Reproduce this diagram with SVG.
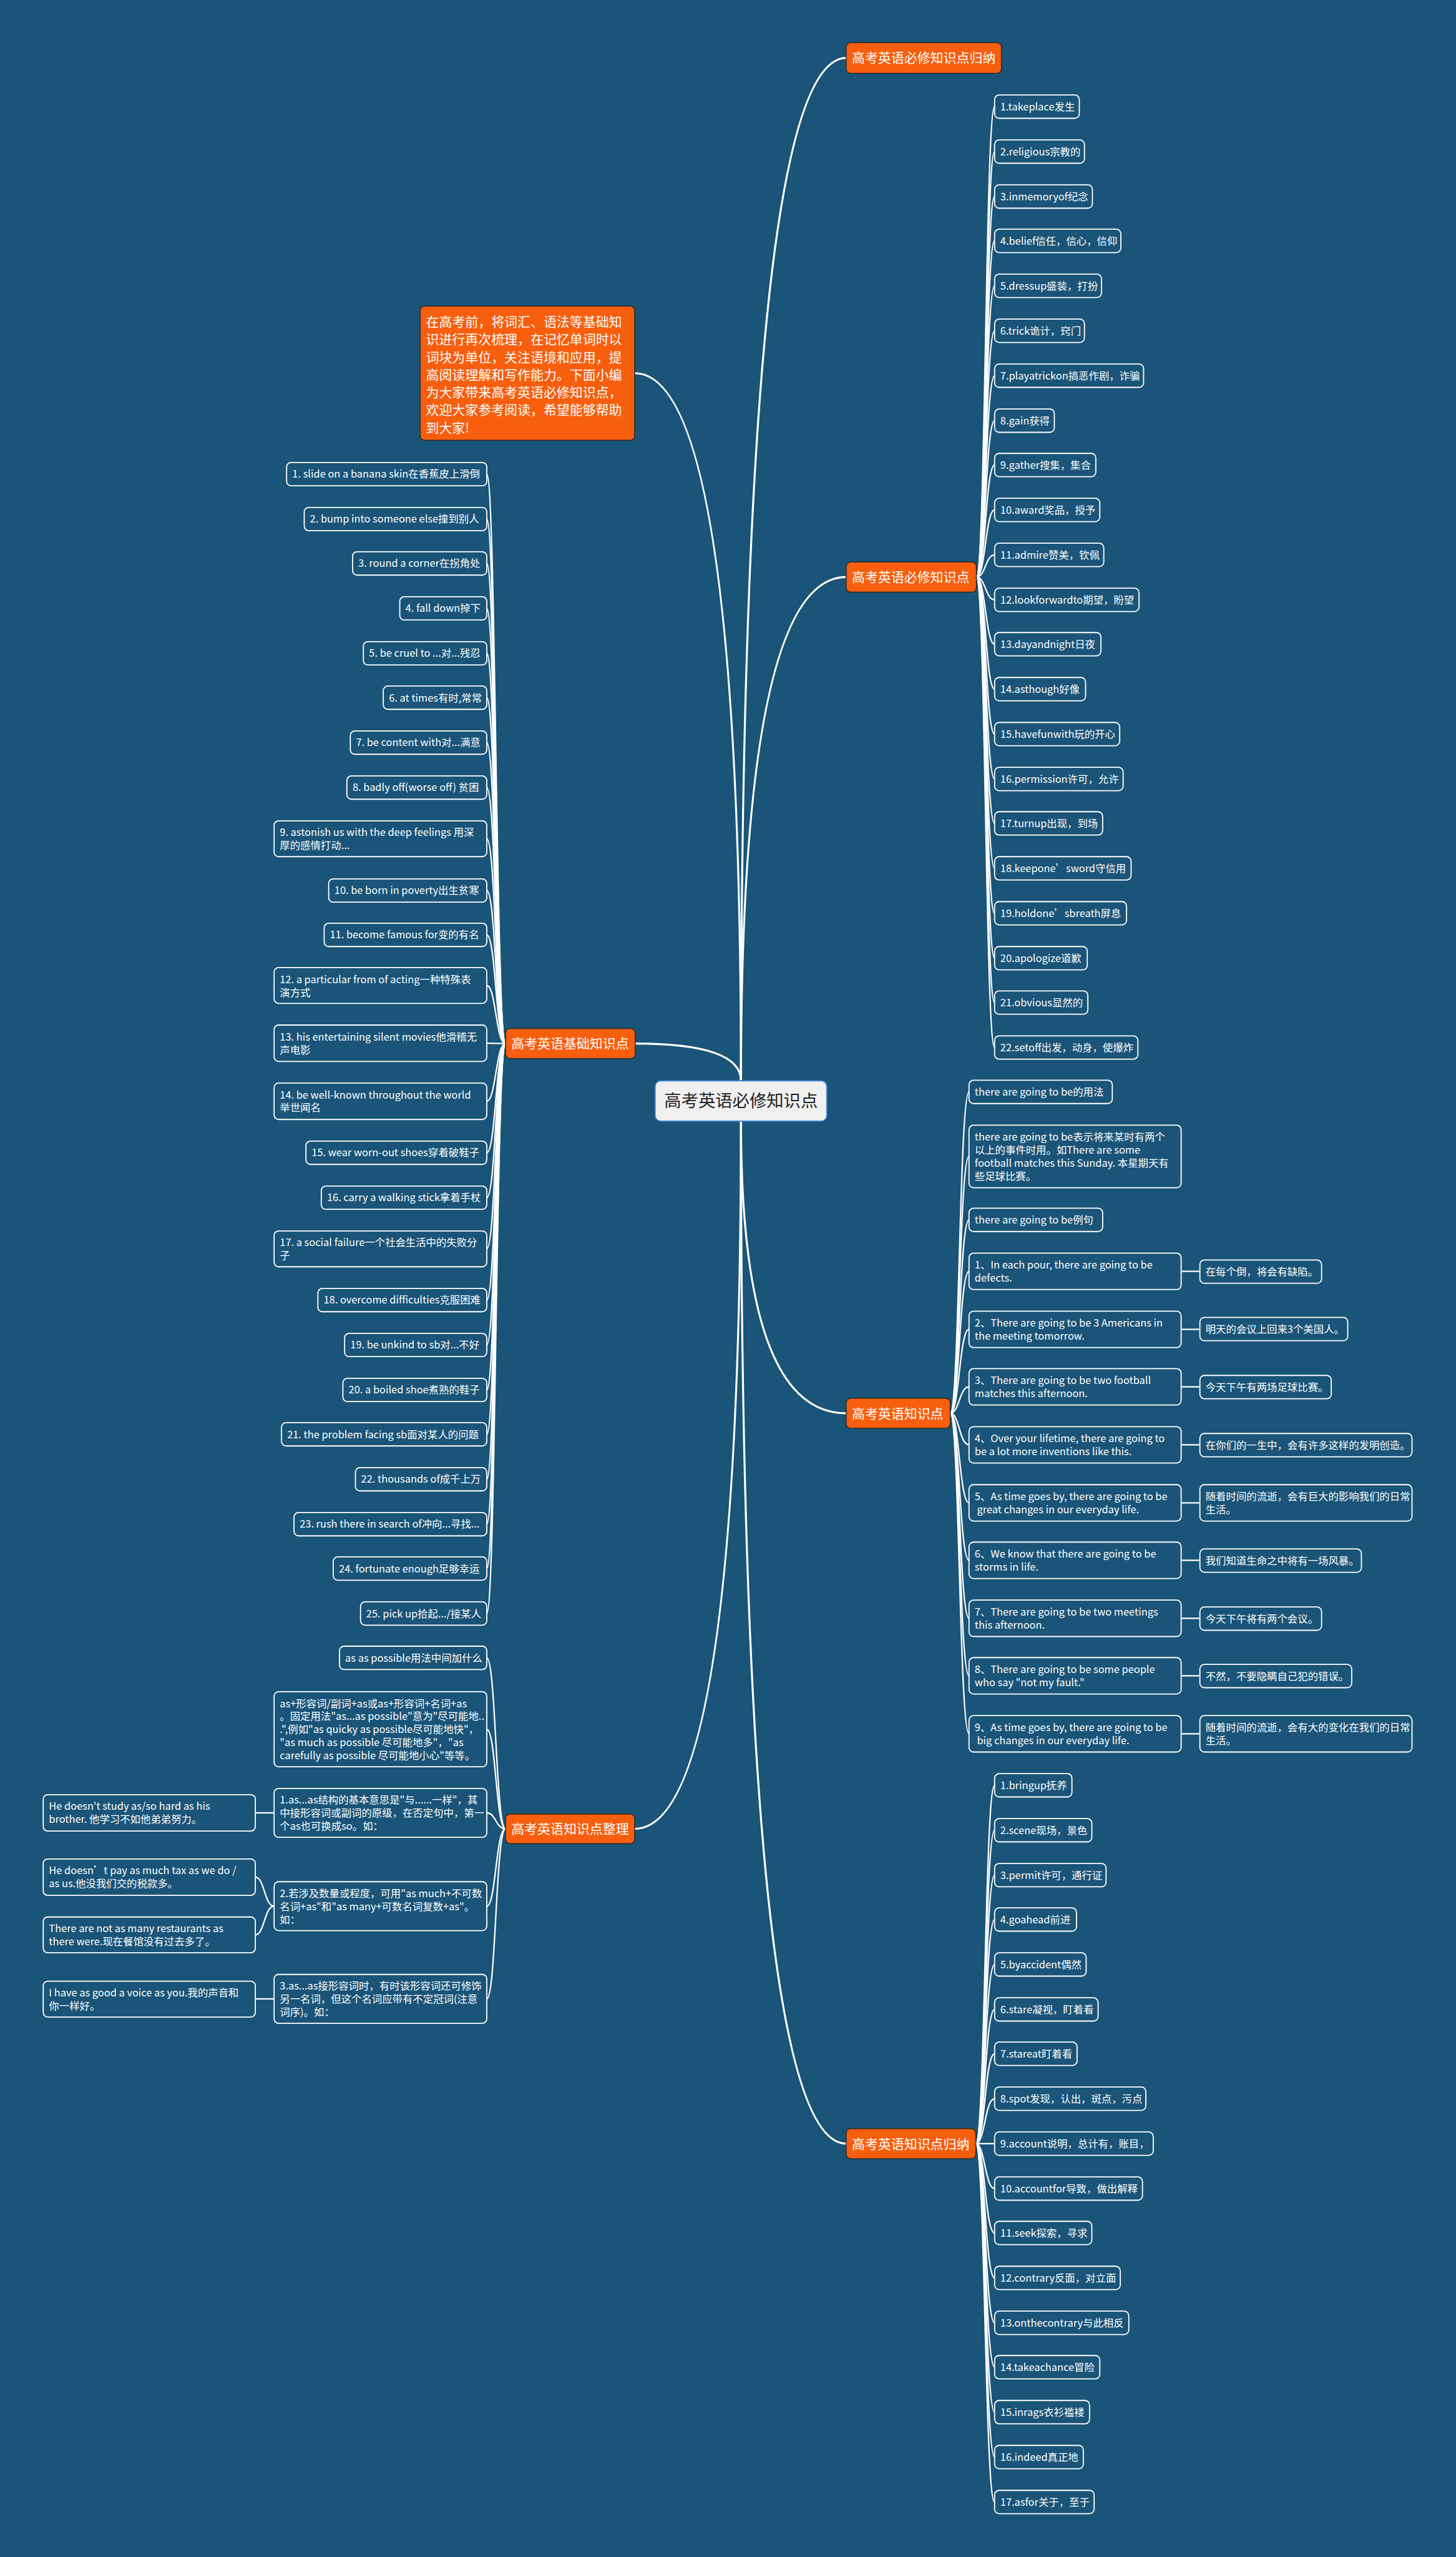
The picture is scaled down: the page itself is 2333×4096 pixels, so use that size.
<svg xmlns="http://www.w3.org/2000/svg" width="2333" height="4096" viewBox="0 0 2333 4096">
<style>
.b{fill:#1a5478;stroke:#ffffff;stroke-width:2}
.o{fill:#f75e0e;stroke:#2a2a2a;stroke-width:1.6}
.t{fill:#ffffff;font-family:"Noto Sans CJK SC","Microsoft YaHei",sans-serif;font-size:18px}
.ot{fill:#ffffff;font-family:"Noto Sans CJK SC","Microsoft YaHei",sans-serif;font-size:23px}
.c{fill:none;stroke:#ffffff;stroke-width:2.5}
.rc{fill:none;stroke:#ffffff;stroke-width:3.5}
</style>
<rect x="0" y="0" width="2333" height="4096" fill="#1a5478"/>
<g transform="scale(0.9112)">
<g id="connectors">
<path class="rc" d="M1303 1900 Q1303 102 1488 102"/>
<path class="rc" d="M1303 1900 Q1303 1014.5 1488 1014.5"/>
<path class="rc" d="M1303 1900 Q1303 656 1116 656"/>
<path class="rc" d="M1303 1900 Q1303 1834.5 1117 1834.5"/>
<path class="rc" d="M1303 1971 Q1303 2484.5 1488 2484.5"/>
<path class="rc" d="M1303 1971 Q1303 3768.5 1488 3768.5"/>
<path class="rc" d="M1303 1971 Q1303 3215 1116 3215"/>
<!-- right list -->
<path class="c" d="M1717 1014.5 C1733 1014.5 1733 187.5 1749 187.5"/>
<path class="c" d="M1717 1014.5 C1733 1014.5 1733 266.5 1749 266.5"/>
<path class="c" d="M1717 1014.5 C1733 1014.5 1733 345.5 1749 345.5"/>
<path class="c" d="M1717 1014.5 C1733 1014.5 1733 423.5 1749 423.5"/>
<path class="c" d="M1717 1014.5 C1733 1014.5 1733 502.5 1749 502.5"/>
<path class="c" d="M1717 1014.5 C1733 1014.5 1733 581.5 1749 581.5"/>
<path class="c" d="M1717 1014.5 C1733 1014.5 1733 660.5 1749 660.5"/>
<path class="c" d="M1717 1014.5 C1733 1014.5 1733 739.5 1749 739.5"/>
<path class="c" d="M1717 1014.5 C1733 1014.5 1733 817.5 1749 817.5"/>
<path class="c" d="M1717 1014.5 C1733 1014.5 1733 896.5 1749 896.5"/>
<path class="c" d="M1717 1014.5 C1733 1014.5 1733 975.5 1749 975.5"/>
<path class="c" d="M1717 1014.5 C1733 1014.5 1733 1054.5 1749 1054.5"/>
<path class="c" d="M1717 1014.5 C1733 1014.5 1733 1132.5 1749 1132.5"/>
<path class="c" d="M1717 1014.5 C1733 1014.5 1733 1211.5 1749 1211.5"/>
<path class="c" d="M1717 1014.5 C1733 1014.5 1733 1290.5 1749 1290.5"/>
<path class="c" d="M1717 1014.5 C1733 1014.5 1733 1369.5 1749 1369.5"/>
<path class="c" d="M1717 1014.5 C1733 1014.5 1733 1447.5 1749 1447.5"/>
<path class="c" d="M1717 1014.5 C1733 1014.5 1733 1526.5 1749 1526.5"/>
<path class="c" d="M1717 1014.5 C1733 1014.5 1733 1605.5 1749 1605.5"/>
<path class="c" d="M1717 1014.5 C1733 1014.5 1733 1684.5 1749 1684.5"/>
<path class="c" d="M1717 1014.5 C1733 1014.5 1733 1762.5 1749 1762.5"/>
<path class="c" d="M1717 1014.5 C1733 1014.5 1733 1841.5 1749 1841.5"/>
<!-- left list -->
<path class="c" d="M889 1834.5 C872 1834.5 872 833.5 856 833.5"/>
<path class="c" d="M889 1834.5 C872 1834.5 872 912.5 856 912.5"/>
<path class="c" d="M889 1834.5 C872 1834.5 872 990.5 856 990.5"/>
<path class="c" d="M889 1834.5 C872 1834.5 872 1069.5 856 1069.5"/>
<path class="c" d="M889 1834.5 C872 1834.5 872 1148.5 856 1148.5"/>
<path class="c" d="M889 1834.5 C872 1834.5 872 1226.5 856 1226.5"/>
<path class="c" d="M889 1834.5 C872 1834.5 872 1305.5 856 1305.5"/>
<path class="c" d="M889 1834.5 C872 1834.5 872 1384.5 856 1384.5"/>
<path class="c" d="M889 1834.5 C872 1834.5 872 1474.5 856 1474.5"/>
<path class="c" d="M889 1834.5 C872 1834.5 872 1565.5 856 1565.5"/>
<path class="c" d="M889 1834.5 C872 1834.5 872 1643.5 856 1643.5"/>
<path class="c" d="M889 1834.5 C872 1834.5 872 1732.5 856 1732.5"/>
<path class="c" d="M889 1834.5 L856 1834"/>
<path class="c" d="M889 1834.5 C872 1834.5 872 1936 856 1936"/>
<path class="c" d="M889 1834.5 C872 1834.5 872 2026.5 856 2026.5"/>
<path class="c" d="M889 1834.5 C872 1834.5 872 2105.5 856 2105.5"/>
<path class="c" d="M889 1834.5 C872 1834.5 872 2195.5 856 2195.5"/>
<path class="c" d="M889 1834.5 C872 1834.5 872 2285.5 856 2285.5"/>
<path class="c" d="M889 1834.5 C872 1834.5 872 2364.5 856 2364.5"/>
<path class="c" d="M889 1834.5 C872 1834.5 872 2443.5 856 2443.5"/>
<path class="c" d="M889 1834.5 C872 1834.5 872 2521.5 856 2521.5"/>
<path class="c" d="M889 1834.5 C872 1834.5 872 2600.5 856 2600.5"/>
<path class="c" d="M889 1834.5 C872 1834.5 872 2679.5 856 2679.5"/>
<path class="c" d="M889 1834.5 C872 1834.5 872 2757.5 856 2757.5"/>
<path class="c" d="M889 1834.5 C872 1834.5 872 2836.5 856 2836.5"/>
<!-- there-section -->
<path class="c" d="M1671 2484.5 C1687 2484.5 1687 1919.5 1704 1919.5"/>
<path class="c" d="M1671 2484.5 C1687 2484.5 1687 2033 1704 2033"/>
<path class="c" d="M1671 2484.5 C1687 2484.5 1687 2144.5 1704 2144.5"/>
<path class="c" d="M1671 2484.5 C1687 2484.5 1687 2235 1704 2235"/>
<path class="c" d="M1671 2484.5 C1687 2484.5 1687 2337 1704 2337"/>
<path class="c" d="M1671 2484.5 C1687 2484.5 1687 2438 1704 2438"/>
<path class="c" d="M1671 2484.5 C1687 2484.5 1687 2540 1704 2540"/>
<path class="c" d="M1671 2484.5 C1687 2484.5 1687 2642 1704 2642"/>
<path class="c" d="M1671 2484.5 C1687 2484.5 1687 2743 1704 2743"/>
<path class="c" d="M1671 2484.5 C1687 2484.5 1687 2845 1704 2845"/>
<path class="c" d="M1671 2484.5 C1687 2484.5 1687 2946 1704 2946"/>
<path class="c" d="M1671 2484.5 C1687 2484.5 1687 3048 1704 3048"/>
<path class="c" d="M2077 2235 L2110 2235"/>
<path class="c" d="M2077 2337 L2110 2337"/>
<path class="c" d="M2077 2438 L2110 2438"/>
<path class="c" d="M2077 2540 L2110 2540"/>
<path class="c" d="M2077 2642 L2110 2642"/>
<path class="c" d="M2077 2743 L2110 2743"/>
<path class="c" d="M2077 2845 L2110 2845"/>
<path class="c" d="M2077 2946 L2110 2946"/>
<path class="c" d="M2077 3048 L2110 3048"/>
<!-- bottom list -->
<path class="c" d="M1716 3768.5 C1732 3768.5 1732 3138.5 1749 3138.5"/>
<path class="c" d="M1716 3768.5 C1732 3768.5 1732 3217.5 1749 3217.5"/>
<path class="c" d="M1716 3768.5 C1732 3768.5 1732 3296.5 1749 3296.5"/>
<path class="c" d="M1716 3768.5 C1732 3768.5 1732 3374.5 1749 3374.5"/>
<path class="c" d="M1716 3768.5 C1732 3768.5 1732 3453.5 1749 3453.5"/>
<path class="c" d="M1716 3768.5 C1732 3768.5 1732 3532.5 1749 3532.5"/>
<path class="c" d="M1716 3768.5 C1732 3768.5 1732 3610.5 1749 3610.5"/>
<path class="c" d="M1716 3768.5 C1732 3768.5 1732 3689.5 1749 3689.5"/>
<path class="c" d="M1716 3768.5 L1749 3768.5"/>
<path class="c" d="M1716 3768.5 C1732 3768.5 1732 3847.5 1749 3847.5"/>
<path class="c" d="M1716 3768.5 C1732 3768.5 1732 3925.5 1749 3925.5"/>
<path class="c" d="M1716 3768.5 C1732 3768.5 1732 4004.5 1749 4004.5"/>
<path class="c" d="M1716 3768.5 C1732 3768.5 1732 4083.5 1749 4083.5"/>
<path class="c" d="M1716 3768.5 C1732 3768.5 1732 4161.5 1749 4161.5"/>
<path class="c" d="M1716 3768.5 C1732 3768.5 1732 4240.5 1749 4240.5"/>
<path class="c" d="M1716 3768.5 C1732 3768.5 1732 4319.5 1749 4319.5"/>
<path class="c" d="M1716 3768.5 C1732 3768.5 1732 4398.5 1749 4398.5"/>
<!-- as...as section -->
<path class="c" d="M889 3215 C872 3215 872 2914.5 856 2914.5"/>
<path class="c" d="M889 3215 C872 3215 872 3040 856 3040"/>
<path class="c" d="M889 3215 C872 3215 872 3187 856 3187"/>
<path class="c" d="M889 3215 C872 3215 872 3351 856 3351"/>
<path class="c" d="M889 3215 C872 3215 872 3514 856 3514"/>
<path class="c" d="M482 3187 L449 3187"/>
<path class="c" d="M482 3351 C465 3351 465 3300 449 3300"/>
<path class="c" d="M482 3351 C465 3351 465 3401.5 449 3401.5"/>
<path class="c" d="M482 3514 L449 3514"/>
</g>

<g id="root"><rect x="1152" y="1900" width="302" height="71" rx="10" fill="#f0f0f0" stroke="#3d7fd0" stroke-width="2"/><text x="1303" y="1946" text-anchor="middle" font-family="Noto Sans CJK SC, sans-serif" font-size="30" fill="#222222">高考英语必修知识点</text></g>

<g id="note"><rect class="o" x="739" y="538" width="377" height="236" rx="8"/>
<text class="ot"><tspan x="749" y="574">在高考前，将词汇、语法等基础知</tspan><tspan x="749" y="605">识进行再次梳理，在记忆单词时以</tspan><tspan x="749" y="636">词块为单位，关注语境和应用，提</tspan><tspan x="749" y="667">高阅读理解和写作能力。下面小编</tspan><tspan x="749" y="698">为大家带来高考英语必修知识点，</tspan><tspan x="749" y="729">欢迎大家参考阅读，希望能够帮助</tspan><tspan x="749" y="760">到大家!</tspan></text></g>

<g id="o1"><rect class="o" x="1488" y="75" width="273" height="54" rx="8"/><text class="ot" x="1498" y="110">高考英语必修知识点归纳</text></g>
<g id="o2"><rect class="o" x="1488" y="988" width="229" height="53" rx="8"/><text class="ot" x="1498" y="1023">高考英语必修知识点</text></g>
<g id="o3"><rect class="o" x="1488" y="2458" width="183" height="53" rx="8"/><text class="ot" x="1498" y="2493">高考英语知识点</text></g>
<g id="o4"><rect class="o" x="1488" y="3742" width="228" height="53" rx="8"/><text class="ot" x="1498" y="3777">高考英语知识点归纳</text></g>
<g id="o5"><rect class="o" x="889" y="1808" width="228" height="53" rx="8"/><text class="ot" x="899" y="1843">高考英语基础知识点</text></g>
<g id="o6"><rect class="o" x="889" y="3189" width="227" height="52" rx="8"/><text class="ot" x="899" y="3223">高考英语知识点整理</text></g>

<g id="r1"><rect class="b" x="1749" y="167" width="149" height="41" rx="8"/><text class="t" x="1759" y="194">1.takeplace发生</text></g>
<g id="r2"><rect class="b" x="1749" y="246" width="158" height="41" rx="8"/><text class="t" x="1759" y="273">2.religious宗教的</text></g>
<g id="r3"><rect class="b" x="1749" y="325" width="172" height="41" rx="8"/><text class="t" x="1759" y="352">3.inmemoryof纪念</text></g>
<g id="r4"><rect class="b" x="1749" y="403" width="222" height="41" rx="8"/><text class="t" x="1759" y="430">4.belief信任，信心，信仰</text></g>
<g id="r5"><rect class="b" x="1749" y="482" width="188" height="41" rx="8"/><text class="t" x="1759" y="509">5.dressup盛装，打扮</text></g>
<g id="r6"><rect class="b" x="1749" y="561" width="158" height="41" rx="8"/><text class="t" x="1759" y="588">6.trick诡计，窍门</text></g>
<g id="r7"><rect class="b" x="1749" y="640" width="262" height="41" rx="8"/><text class="t" x="1759" y="667">7.playatrickon搞恶作剧，诈骗</text></g>
<g id="r8"><rect class="b" x="1749" y="719" width="105" height="41" rx="8"/><text class="t" x="1759" y="746">8.gain获得</text></g>
<g id="r9"><rect class="b" x="1749" y="797" width="178" height="41" rx="8"/><text class="t" x="1759" y="824">9.gather搜集，集合</text></g>
<g id="r10"><rect class="b" x="1749" y="876" width="185" height="41" rx="8"/><text class="t" x="1759" y="903">10.award奖品，授予</text></g>
<g id="r11"><rect class="b" x="1749" y="955" width="192" height="41" rx="8"/><text class="t" x="1759" y="982">11.admire赞美，钦佩</text></g>
<g id="r12"><rect class="b" x="1749" y="1034" width="254" height="41" rx="8"/><text class="t" x="1759" y="1061">12.lookforwardto期望，盼望</text></g>
<g id="r13"><rect class="b" x="1749" y="1112" width="187" height="41" rx="8"/><text class="t" x="1759" y="1139">13.dayandnight日夜</text></g>
<g id="r14"><rect class="b" x="1749" y="1191" width="160" height="41" rx="8"/><text class="t" x="1759" y="1218">14.asthough好像</text></g>
<g id="r15"><rect class="b" x="1749" y="1270" width="220" height="41" rx="8"/><text class="t" x="1759" y="1297">15.havefunwith玩的开心</text></g>
<g id="r16"><rect class="b" x="1749" y="1349" width="226" height="41" rx="8"/><text class="t" x="1759" y="1376">16.permission许可，允许</text></g>
<g id="r17"><rect class="b" x="1749" y="1427" width="190" height="41" rx="8"/><text class="t" x="1759" y="1454">17.turnup出现，到场</text></g>
<g id="r18"><rect class="b" x="1749" y="1506" width="240" height="41" rx="8"/><text class="t" x="1759" y="1533">18.keepone’sword守信用</text></g>
<g id="r19"><rect class="b" x="1749" y="1585" width="232" height="41" rx="8"/><text class="t" x="1759" y="1612">19.holdone’sbreath屏息</text></g>
<g id="r20"><rect class="b" x="1749" y="1664" width="163" height="41" rx="8"/><text class="t" x="1759" y="1691">20.apologize道歉</text></g>
<g id="r21"><rect class="b" x="1749" y="1742" width="164" height="41" rx="8"/><text class="t" x="1759" y="1769">21.obvious显然的</text></g>
<g id="r22"><rect class="b" x="1749" y="1821" width="252" height="41" rx="8"/><text class="t" x="1759" y="1848">22.setoff出发，动身，使爆炸</text></g>

<g id="l1"><rect class="b" x="504" y="813" width="352" height="41" rx="8"/><text class="t" x="514" y="840">1. slide on a banana skin在香蕉皮上滑倒</text></g>
<g id="l2"><rect class="b" x="535" y="892" width="321" height="41" rx="8"/><text class="t" x="545" y="919">2. bump into someone else撞到别人</text></g>
<g id="l3"><rect class="b" x="620" y="970" width="236" height="41" rx="8"/><text class="t" x="630" y="997">3. round a corner在拐角处</text></g>
<g id="l4"><rect class="b" x="703" y="1049" width="153" height="41" rx="8"/><text class="t" x="713" y="1076">4. fall down掉下</text></g>
<g id="l5"><rect class="b" x="639" y="1128" width="217" height="41" rx="8"/><text class="t" x="649" y="1155">5. be cruel to ...对...残忍</text></g>
<g id="l6"><rect class="b" x="674" y="1206" width="182" height="41" rx="8"/><text class="t" x="684" y="1233">6. at times有时,常常</text></g>
<g id="l7"><rect class="b" x="616" y="1285" width="240" height="41" rx="8"/><text class="t" x="626" y="1312">7. be content with对...满意</text></g>
<g id="l8"><rect class="b" x="610" y="1364" width="246" height="41" rx="8"/><text class="t" x="620" y="1391">8. badly off(worse off) 贫困</text></g>
<g id="l9"><rect class="b" x="482" y="1443" width="374" height="63" rx="8"/><text class="t"><tspan x="492" y="1470">9. astonish us with the deep feelings 用深</tspan><tspan x="492" y="1493">厚的感情打动...</tspan></text></g>
<g id="l10"><rect class="b" x="578" y="1545" width="278" height="41" rx="8"/><text class="t" x="588" y="1572">10. be born in poverty出生贫寒</text></g>
<g id="l11"><rect class="b" x="570" y="1623" width="286" height="41" rx="8"/><text class="t" x="580" y="1650">11. become famous for变的有名</text></g>
<g id="l12"><rect class="b" x="482" y="1701" width="374" height="63" rx="8"/><text class="t"><tspan x="492" y="1728">12. a particular from of acting一种特殊表</tspan><tspan x="492" y="1751">演方式</tspan></text></g>
<g id="l13"><rect class="b" x="482" y="1802" width="374" height="64" rx="8"/><text class="t"><tspan x="492" y="1829">13. his entertaining silent movies他滑稽无</tspan><tspan x="492" y="1852">声电影</tspan></text></g>
<g id="l14"><rect class="b" x="482" y="1904" width="374" height="64" rx="8"/><text class="t"><tspan x="492" y="1931">14. be well-known throughout the world</tspan><tspan x="492" y="1954">举世闻名</tspan></text></g>
<g id="l15"><rect class="b" x="538" y="2006" width="318" height="41" rx="8"/><text class="t" x="548" y="2033">15. wear worn-out shoes穿着破鞋子</text></g>
<g id="l16"><rect class="b" x="565" y="2085" width="291" height="41" rx="8"/><text class="t" x="575" y="2112">16. carry a walking stick拿着手杖</text></g>
<g id="l17"><rect class="b" x="482" y="2164" width="374" height="63" rx="8"/><text class="t"><tspan x="492" y="2191">17. a social failure一个社会生活中的失败分</tspan><tspan x="492" y="2214">子</tspan></text></g>
<g id="l18"><rect class="b" x="559" y="2265" width="297" height="41" rx="8"/><text class="t" x="569" y="2292">18. overcome difficulties克服困难</text></g>
<g id="l19"><rect class="b" x="606" y="2344" width="250" height="41" rx="8"/><text class="t" x="616" y="2371">19. be unkind to sb对...不好</text></g>
<g id="l20"><rect class="b" x="603" y="2423" width="253" height="41" rx="8"/><text class="t" x="613" y="2450">20. a boiled shoe煮熟的鞋子</text></g>
<g id="l21"><rect class="b" x="495" y="2501" width="361" height="41" rx="8"/><text class="t" x="505" y="2528">21. the problem facing sb面对某人的问题</text></g>
<g id="l22"><rect class="b" x="625" y="2580" width="231" height="41" rx="8"/><text class="t" x="635" y="2607">22. thousands of成千上万</text></g>
<g id="l23"><rect class="b" x="517" y="2659" width="339" height="41" rx="8"/><text class="t" x="527" y="2686">23. rush there in search of冲向...寻找...</text></g>
<g id="l24"><rect class="b" x="586" y="2737" width="270" height="41" rx="8"/><text class="t" x="596" y="2764">24. fortunate enough足够幸运</text></g>
<g id="l25"><rect class="b" x="634" y="2816" width="222" height="41" rx="8"/><text class="t" x="644" y="2843">25. pick up拾起.../接某人</text></g>

<g id="tA"><rect class="b" x="1704" y="1899" width="252" height="41" rx="8"/><text class="t" x="1714" y="1926">there are going to be的用法</text></g>
<g id="tB"><rect class="b" x="1704" y="1978" width="373" height="110" rx="8"/><text class="t"><tspan x="1714" y="2005">there are going to be表示将来某时有两个</tspan><tspan x="1714" y="2028">以上的事件时用。如There are some</tspan><tspan x="1714" y="2051">football matches this Sunday. 本星期天有</tspan><tspan x="1714" y="2074">些足球比赛。</tspan></text></g>
<g id="tC"><rect class="b" x="1704" y="2124" width="235" height="41" rx="8"/><text class="t" x="1714" y="2151">there are going to be例句</text></g>
<g id="d1"><rect class="b" x="1704" y="2203" width="373" height="64" rx="8"/><text class="t"><tspan x="1714" y="2230">1、In each pour, there are going to be</tspan><tspan x="1714" y="2253">defects.</tspan></text></g>
<g id="d1c"><rect class="b" x="2110" y="2215" width="214" height="41" rx="8"/><text class="t" x="2120" y="2242">在每个倒，将会有缺陷。</text></g>
<g id="d2"><rect class="b" x="1704" y="2305" width="373" height="64" rx="8"/><text class="t"><tspan x="1714" y="2332">2、There are going to be 3 Americans in</tspan><tspan x="1714" y="2355">the meeting tomorrow.</tspan></text></g>
<g id="d2c"><rect class="b" x="2110" y="2316" width="260" height="41" rx="8"/><text class="t" x="2120" y="2343">明天的会议上回来3个美国人。</text></g>
<g id="d3"><rect class="b" x="1704" y="2406" width="373" height="64" rx="8"/><text class="t"><tspan x="1714" y="2433">3、There are going to be two football</tspan><tspan x="1714" y="2456">matches this afternoon.</tspan></text></g>
<g id="d3c"><rect class="b" x="2110" y="2418" width="231" height="41" rx="8"/><text class="t" x="2120" y="2445">今天下午有两场足球比赛。</text></g>
<g id="d4"><rect class="b" x="1704" y="2508" width="373" height="64" rx="8"/><text class="t"><tspan x="1714" y="2535">4、Over your lifetime, there are going to</tspan><tspan x="1714" y="2558">be a lot more inventions like this.</tspan></text></g>
<g id="d4c"><rect class="b" x="2110" y="2520" width="373" height="41" rx="8"/><text class="t" x="2120" y="2547">在你们的一生中，会有许多这样的发明创造。</text></g>
<g id="d5"><rect class="b" x="1704" y="2610" width="373" height="64" rx="8"/><text class="t" xml:space="preserve"><tspan x="1714" y="2637">5、As time goes by, there are going to be</tspan><tspan x="1714" y="2660"> great changes in our everyday life.</tspan></text></g>
<g id="d5c"><rect class="b" x="2110" y="2610" width="373" height="64" rx="8"/><text class="t"><tspan x="2120" y="2637">随着时间的流逝，会有巨大的影响我们的日常</tspan><tspan x="2120" y="2660">生活。</tspan></text></g>
<g id="d6"><rect class="b" x="1704" y="2711" width="373" height="64" rx="8"/><text class="t"><tspan x="1714" y="2738">6、We know that there are going to be</tspan><tspan x="1714" y="2761">storms in life.</tspan></text></g>
<g id="d6c"><rect class="b" x="2110" y="2723" width="284" height="41" rx="8"/><text class="t" x="2120" y="2750">我们知道生命之中将有一场风暴。</text></g>
<g id="d7"><rect class="b" x="1704" y="2813" width="373" height="64" rx="8"/><text class="t"><tspan x="1714" y="2840">7、There are going to be two meetings</tspan><tspan x="1714" y="2863">this afternoon.</tspan></text></g>
<g id="d7c"><rect class="b" x="2110" y="2825" width="214" height="41" rx="8"/><text class="t" x="2120" y="2852">今天下午将有两个会议。</text></g>
<g id="d8"><rect class="b" x="1704" y="2914" width="373" height="64" rx="8"/><text class="t"><tspan x="1714" y="2941">8、There are going to be some people</tspan><tspan x="1714" y="2964">who say "not my fault."</tspan></text></g>
<g id="d8c"><rect class="b" x="2110" y="2926" width="267" height="41" rx="8"/><text class="t" x="2120" y="2953">不然，不要隐瞒自己犯的错误。</text></g>
<g id="d9"><rect class="b" x="1704" y="3016" width="373" height="64" rx="8"/><text class="t" xml:space="preserve"><tspan x="1714" y="3043">9、As time goes by, there are going to be</tspan><tspan x="1714" y="3066"> big changes in our everyday life.</tspan></text></g>
<g id="d9c"><rect class="b" x="2110" y="3016" width="373" height="64" rx="8"/><text class="t"><tspan x="2120" y="3043">随着时间的流逝，会有大的变化在我们的日常</tspan><tspan x="2120" y="3066">生活。</tspan></text></g>

<g id="b1"><rect class="b" x="1749" y="3118" width="136" height="41" rx="8"/><text class="t" x="1759" y="3145">1.bringup抚养</text></g>
<g id="b2"><rect class="b" x="1749" y="3197" width="171" height="41" rx="8"/><text class="t" x="1759" y="3224">2.scene现场，景色</text></g>
<g id="b3"><rect class="b" x="1749" y="3276" width="196" height="41" rx="8"/><text class="t" x="1759" y="3303">3.permit许可，通行证</text></g>
<g id="b4"><rect class="b" x="1749" y="3354" width="144" height="41" rx="8"/><text class="t" x="1759" y="3381">4.goahead前进</text></g>
<g id="b5"><rect class="b" x="1749" y="3433" width="161" height="41" rx="8"/><text class="t" x="1759" y="3460">5.byaccident偶然</text></g>
<g id="b6"><rect class="b" x="1749" y="3512" width="182" height="41" rx="8"/><text class="t" x="1759" y="3539">6.stare凝视，盯着看</text></g>
<g id="b7"><rect class="b" x="1749" y="3590" width="145" height="41" rx="8"/><text class="t" x="1759" y="3617">7.stareat盯着看</text></g>
<g id="b8"><rect class="b" x="1749" y="3669" width="266" height="41" rx="8"/><text class="t" x="1759" y="3696">8.spot发现，认出，斑点，污点</text></g>
<g id="b9"><rect class="b" x="1749" y="3748" width="279" height="41" rx="8"/><text class="t" x="1759" y="3775">9.account说明，总计有，账目，</text></g>
<g id="b10"><rect class="b" x="1749" y="3827" width="260" height="41" rx="8"/><text class="t" x="1759" y="3854">10.accountfor导致，做出解释</text></g>
<g id="b11"><rect class="b" x="1749" y="3905" width="171" height="41" rx="8"/><text class="t" x="1759" y="3932">11.seek探索，寻求</text></g>
<g id="b12"><rect class="b" x="1749" y="3984" width="221" height="41" rx="8"/><text class="t" x="1759" y="4011">12.contrary反面，对立面</text></g>
<g id="b13"><rect class="b" x="1749" y="4063" width="236" height="41" rx="8"/><text class="t" x="1759" y="4090">13.onthecontrary与此相反</text></g>
<g id="b14"><rect class="b" x="1749" y="4141" width="185" height="41" rx="8"/><text class="t" x="1759" y="4168">14.takeachance冒险</text></g>
<g id="b15"><rect class="b" x="1749" y="4220" width="167" height="41" rx="8"/><text class="t" x="1759" y="4247">15.inrags衣衫褴褛</text></g>
<g id="b16"><rect class="b" x="1749" y="4299" width="156" height="41" rx="8"/><text class="t" x="1759" y="4326">16.indeed真正地</text></g>
<g id="b17"><rect class="b" x="1749" y="4378" width="175" height="41" rx="8"/><text class="t" x="1759" y="4405">17.asfor关于，至于</text></g>

<g id="e1"><rect class="b" x="597" y="2894" width="259" height="41" rx="8"/><text class="t" x="607" y="2921">as as possible用法中间加什么</text></g>
<g id="e2"><rect class="b" x="482" y="2974" width="374" height="132" rx="8"/><text class="t"><tspan x="492" y="3001">as+形容词/副词+as或as+形容词+名词+as</tspan><tspan x="492" y="3024">。固定用法"as...as possible"意为"尽可能地..</tspan><tspan x="492" y="3047">.",例如"as quicky as possible尽可能地快"，</tspan><tspan x="492" y="3070">"as much as possible 尽可能地多"，"as</tspan><tspan x="492" y="3093">carefully as possible 尽可能地小心"等等。</tspan></text></g>
<g id="e3"><rect class="b" x="482" y="3144" width="374" height="86" rx="8"/><text class="t"><tspan x="492" y="3171">1.as...as结构的基本意思是"与......一样"，其</tspan><tspan x="492" y="3194">中接形容词或副词的原级，在否定句中，第一</tspan><tspan x="492" y="3217">个as也可换成so。如：</tspan></text></g>
<g id="e3c"><rect class="b" x="76" y="3155" width="373" height="64" rx="8"/><text class="t"><tspan x="86" y="3182">He doesn't study as/so hard as his</tspan><tspan x="86" y="3205">brother. 他学习不如他弟弟努力。</tspan></text></g>
<g id="e4"><rect class="b" x="482" y="3308" width="374" height="86" rx="8"/><text class="t"><tspan x="492" y="3335">2.若涉及数量或程度，可用"as much+不可数</tspan><tspan x="492" y="3358">名词+as"和"as many+可数名词复数+as"。</tspan><tspan x="492" y="3381">如：</tspan></text></g>
<g id="e4c1"><rect class="b" x="76" y="3268" width="373" height="64" rx="8"/><text class="t"><tspan x="86" y="3295">He doesn’t pay as much tax as we do /</tspan><tspan x="86" y="3318">as us.他没我们交的税款多。</tspan></text></g>
<g id="e4c2"><rect class="b" x="76" y="3370" width="373" height="63" rx="8"/><text class="t"><tspan x="86" y="3397">There are not as many restaurants as</tspan><tspan x="86" y="3420">there were.现在餐馆没有过去多了。</tspan></text></g>
<g id="e5"><rect class="b" x="482" y="3471" width="374" height="86" rx="8"/><text class="t"><tspan x="492" y="3498">3.as...as接形容词时，有时该形容词还可修饰</tspan><tspan x="492" y="3521">另一名词，但这个名词应带有不定冠词(注意</tspan><tspan x="492" y="3544">词序)。如：</tspan></text></g>
<g id="e5c"><rect class="b" x="76" y="3483" width="373" height="63" rx="8"/><text class="t"><tspan x="86" y="3510">I have as good a voice as you.我的声音和</tspan><tspan x="86" y="3533">你一样好。</tspan></text></g>
</g>
</svg>
